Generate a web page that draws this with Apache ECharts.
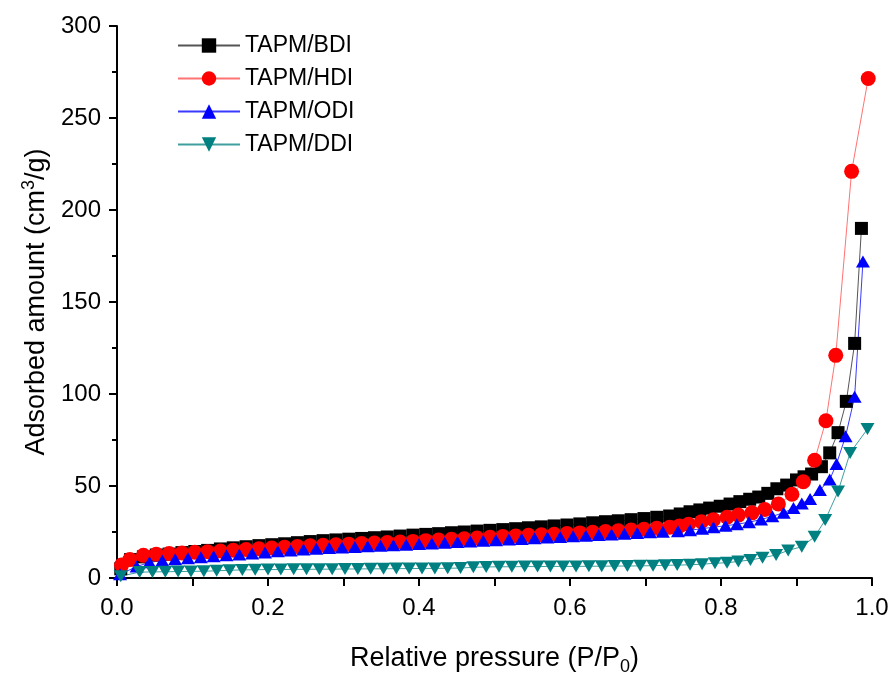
<!DOCTYPE html>
<html><head><meta charset="utf-8">
<script src="https://cdn.jsdelivr.net/npm/echarts@6/dist/echarts.min.js"></script>
<style>html,body{margin:0;padding:0;background:#fff}#c{width:895px;height:682px}</style>
</head><body><div id="c"></div>
<script>
const seriesNames = ['TAPM/BDI', 'TAPM/HDI', 'TAPM/ODI', 'TAPM/DDI'];
const xAxisTitle = 'Relative pressure (P/P{sub|0})';
const yAxisTitle = 'Adsorbed amount (cm{sup|3}/g)';

const bdi = [
  [0.005,5],[0.018,10],[0.035,11.5],[0.052,12.5],[0.069,13],[0.086,13.8],[0.103,14.4],[0.12,15],
  [0.137,15.8],[0.154,16.4],[0.171,17],[0.188,17.6],[0.205,18.1],[0.222,18.6],[0.239,19.2],[0.256,19.8],
  [0.273,20.3],[0.29,20.7],[0.307,21.1],[0.324,21.5],[0.341,21.9],[0.358,22.3],[0.375,22.8],[0.392,23.3],
  [0.409,23.7],[0.426,24.1],[0.443,24.6],[0.46,25],[0.477,25.5],[0.494,25.9],[0.511,26.3],[0.528,26.8],
  [0.545,27.3],[0.562,27.8],[0.579,28.3],[0.596,28.8],[0.613,29.4],[0.63,30],[0.647,30.6],[0.664,31.1],
  [0.681,31.7],[0.698,32.3],[0.715,33],[0.732,33.7],[0.746,34.8],[0.759,36],[0.772,37],[0.785,38],
  [0.799,39],[0.812,40.2],[0.825,41.5],[0.838,42.8],[0.85,44],[0.862,46],[0.874,48.5],[0.887,50.5],
  [0.9,53.3],[0.91,55],[0.92,56.5],[0.933,60.5],[0.944,68],[0.955,79],[0.966,96],[0.977,127.5],[0.986,190]
];
const hdi = [
  [0.006,7],[0.017,10],[0.035,12.3],[0.052,12.9],[0.069,13.3],[0.086,13.6],[0.103,14],[0.12,14.3],
  [0.137,14.7],[0.154,15.1],[0.171,15.5],[0.188,15.9],[0.205,16.3],[0.222,16.7],[0.239,17.1],[0.256,17.5],
  [0.273,17.8],[0.29,18.1],[0.307,18.4],[0.324,18.7],[0.341,19],[0.358,19.3],[0.375,19.6],[0.392,19.9],
  [0.409,20.3],[0.426,20.6],[0.443,21],[0.46,21.3],[0.477,21.7],[0.494,22.1],[0.511,22.5],[0.528,22.8],
  [0.545,23.2],[0.562,23.5],[0.579,23.8],[0.596,24.2],[0.613,24.5],[0.63,24.9],[0.647,25.3],[0.664,25.7],
  [0.681,26.1],[0.698,26.5],[0.715,27],[0.732,27.6],[0.745,28.3],[0.757,29.2],[0.774,30.6],[0.79,31.7],
  [0.808,33],[0.823,34.2],[0.841,35.4],[0.858,37.2],[0.876,40.2],[0.894,45.5],[0.909,52.3],[0.924,64],
  [0.939,85.5],[0.952,121],[0.973,221],[0.995,271.5]
];
const odi = [
  [0.004,2],[0.026,6.2],[0.043,8.5],[0.06,9.5],[0.077,10.2],[0.094,10.8],[0.111,11.3],[0.128,11.8],
  [0.145,12.3],[0.162,12.8],[0.179,13.3],[0.196,13.9],[0.213,14.5],[0.23,15],[0.247,15.5],[0.264,15.9],
  [0.281,16.3],[0.298,16.6],[0.315,16.9],[0.332,17.2],[0.349,17.5],[0.366,17.8],[0.383,18.1],[0.4,18.5],
  [0.417,18.8],[0.434,19.2],[0.451,19.5],[0.468,19.9],[0.485,20.2],[0.502,20.5],[0.519,20.9],[0.536,21.2],
  [0.553,21.6],[0.57,22],[0.587,22.3],[0.604,22.7],[0.621,23],[0.638,23.4],[0.655,23.7],[0.672,24.1],
  [0.689,24.4],[0.706,24.8],[0.723,25.1],[0.743,25.4],[0.759,26],[0.775,26.8],[0.79,27.6],[0.806,28.4],
  [0.821,29.2],[0.837,30.3],[0.853,31.8],[0.868,33.5],[0.883,35.5],[0.896,38],[0.907,40.5],[0.918,43],
  [0.931,47.8],[0.944,53.5],[0.953,62],[0.965,77],[0.977,98.5],[0.988,172]
];
const ddi = [
  [0.005,1],[0.03,3.2],[0.047,3.3],[0.064,3.4],[0.081,3.5],[0.098,3.6],[0.115,3.7],[0.132,3.9],
  [0.149,4.2],[0.166,4.4],[0.183,4.5],[0.2,4.6],[0.217,4.6],[0.234,4.7],[0.251,4.7],[0.268,4.8],
  [0.285,4.8],[0.302,4.9],[0.319,4.9],[0.336,5.0],[0.353,5.0],[0.37,5.1],[0.387,5.1],[0.404,5.2],
  [0.421,5.2],[0.438,5.3],[0.455,5.4],[0.472,5.8],[0.489,6.0],[0.506,6.1],[0.523,6.1],[0.54,6.2],
  [0.557,6.2],[0.574,6.3],[0.591,6.3],[0.608,6.3],[0.625,6.4],[0.642,6.4],[0.659,6.5],[0.676,6.5],
  [0.693,6.6],[0.71,6.7],[0.726,6.9],[0.742,7.0],[0.759,7.2],[0.775,7.5],[0.792,8.0],[0.808,8.3],
  [0.823,9.0],[0.839,9.8],[0.855,11.0],[0.873,12.5],[0.889,15],[0.907,17],[0.924,22.4],[0.938,31.5],
  [0.955,47],[0.971,68],[0.994,81]
];

const font = 'Liberation Sans, Arial, sans-serif';
const chart = echarts.init(document.getElementById('c'), null, {renderer: 'canvas'});

function mk(name, data, color, lineColor, symbol, size, rotate) {
  return {
    name: name, type: 'line', data: data,
    symbol: symbol, symbolSize: size, symbolRotate: rotate || 0,
    itemStyle: {color: color},
    lineStyle: {color: lineColor, width: 1},
    emphasis: {disabled: true},
    clip: true
  };
}

chart.setOption({
  animation: false,
  backgroundColor: '#fff',
  textStyle: {fontFamily: font},
  grid: {left: 117, right: 23, top: 26, bottom: 104, containLabel: false},
  legend: {
    orient: 'vertical', left: 172, top: 29,
    itemWidth: 62, itemHeight: 18, itemGap: 10,
    textStyle: {fontSize: 23, color: '#000', fontFamily: font},
    data: seriesNames
  },
  xAxis: {
    type: 'value', min: 0, max: 1, interval: 0.2,
    name: xAxisTitle, nameLocation: 'middle', nameGap: 64,
    nameTextStyle: {fontSize: 27, color: '#000', fontFamily: font,
      rich: {sub: {fontSize: 18, padding: [16, 0, 0, 0], color: '#000', fontFamily: font}}},
    axisLine: {lineStyle: {color: '#000', width: 2}},
    axisTick: {inside: false, length: 8, lineStyle: {color: '#000', width: 2}},
    minorTick: {show: true, splitNumber: 2, length: 8, lineStyle: {color: '#000', width: 2}},
    axisLabel: {fontSize: 24, color: '#000', margin: 18, fontFamily: font,
      formatter: v => v.toFixed(1)},
    splitLine: {show: false}
  },
  yAxis: {
    type: 'value', min: 0, max: 300, interval: 50,
    name: yAxisTitle, nameLocation: 'middle', nameGap: 62, nameRotate: 90,
    nameTextStyle: {fontSize: 27, color: '#000', fontFamily: font,
      rich: {sup: {fontSize: 18, padding: [0, 0, 16, 0], color: '#000', fontFamily: font}}},
    axisLine: {show: true, lineStyle: {color: '#000', width: 2}},
    axisTick: {show: true, inside: false, length: 8, lineStyle: {color: '#000', width: 2}},
    minorTick: {show: true, splitNumber: 2, length: 5, lineStyle: {color: '#000', width: 2}},
    axisLabel: {fontSize: 24, color: '#000', margin: 16, fontFamily: font},
    splitLine: {show: false}
  },
  series: [
    mk(seriesNames[0], bdi, '#000000', '#555555', 'rect', 13),
    mk(seriesNames[1], hdi, '#ff0000', '#ff7373', 'circle', 15),
    mk(seriesNames[2], odi, '#0000ff', '#3a3aff', 'triangle', [14, 12]),
    mk(seriesNames[3], ddi, '#008080', '#3f9f9f', 'triangle', [14, 12], 180)
  ]
});
</script></body></html>
